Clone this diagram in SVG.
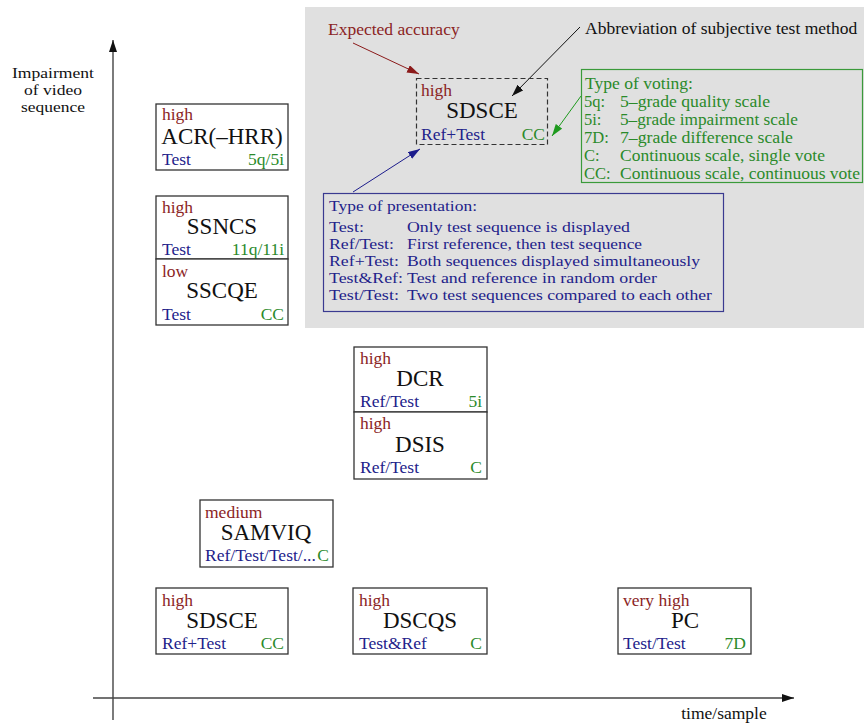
<svg xmlns="http://www.w3.org/2000/svg" width="864" height="724" viewBox="0 0 864 724">
<defs>
<marker id="ahK" viewBox="0 0 12 8" refX="12" refY="4" markerWidth="12" markerHeight="8" markerUnits="userSpaceOnUse" orient="auto"><path d="M0,0 L12,4 L0,8 z" fill="#111"/></marker>
<marker id="ahR" viewBox="0 0 12 8" refX="12" refY="4" markerWidth="12" markerHeight="8" markerUnits="userSpaceOnUse" orient="auto"><path d="M0,0 L12,4 L0,8 z" fill="#8b1a1a"/></marker>
<marker id="ahG" viewBox="0 0 12 8" refX="12" refY="4" markerWidth="12" markerHeight="8" markerUnits="userSpaceOnUse" orient="auto"><path d="M0,0 L12,4 L0,8 z" fill="#1e9a1e"/></marker>
<marker id="ahB" viewBox="0 0 12 8" refX="12" refY="4" markerWidth="12" markerHeight="8" markerUnits="userSpaceOnUse" orient="auto"><path d="M0,0 L12,4 L0,8 z" fill="#1c1c8c"/></marker>
</defs>
<style>
text{font-family:"Liberation Serif","Times New Roman",serif;font-size:17.5px;fill:#111}
.box{fill:#fff;stroke:#333;stroke-width:1.3}
.acc{fill:#8b2424}
.name{font-size:23px;text-anchor:middle;fill:#111}
.pres{fill:#22228a}
.vote{fill:#2a8a2a;text-anchor:end}
.gv{fill:#2a8a2a;font-size:16.5px}
.lp{fill:#22228a;font-size:15.5px}
.ax{font-size:15.5px;text-anchor:middle}
.axis{stroke:#444;stroke-width:1.4;fill:none}
</style>
<rect x="305" y="7" width="559" height="321" fill="#e0e0e0"/>
<g id="connectors">
<line class="axis" x1="113" y1="720" x2="113" y2="40" marker-end="url(#ahK)"/>
<line class="axis" x1="93" y1="698" x2="794" y2="698" marker-end="url(#ahK)"/>
<line x1="353" y1="43" x2="419" y2="74" stroke="#8b1a1a" stroke-width="1" marker-end="url(#ahR)"/>
<line x1="580" y1="27" x2="512" y2="96" stroke="#111" stroke-width="1" marker-end="url(#ahK)"/>
<line x1="581" y1="96" x2="552" y2="136" stroke="#1e9a1e" stroke-width="1" marker-end="url(#ahG)"/>
<line x1="353" y1="192" x2="420" y2="149" stroke="#1c1c8c" stroke-width="1" marker-end="url(#ahB)"/>
</g>
<g id="axis-labels">
<text x="53" y="78" class="ax" textLength="82" lengthAdjust="spacingAndGlyphs">Impairment</text>
<text x="53" y="95" class="ax" textLength="58" lengthAdjust="spacingAndGlyphs">of video</text>
<text x="53" y="112" class="ax" textLength="64" lengthAdjust="spacingAndGlyphs">sequence</text>
<text x="724" y="719" text-anchor="middle">time/sample</text>
</g>
<g id="legend-accuracy"><text x="328" y="35" class="acc">Expected accuracy</text></g>
<g id="legend-abbrev"><text x="585" y="34">Abbreviation of subjective test method</text></g>
<g id="legend-example">
<rect x="416.5" y="78.5" width="131" height="66" fill="none" stroke="#333" stroke-width="1.2" stroke-dasharray="5,3"/>
<text x="421" y="96" class="acc">high</text>
<text x="482" y="118" class="name">SDSCE</text>
<text x="421" y="140" class="pres">Ref+Test</text>
<text x="545" y="140" class="vote">CC</text>
</g>
<g id="legend-voting">
<rect x="581.5" y="69.5" width="281" height="113" fill="none" stroke="#3a9a3a" stroke-width="1.2"/>
<text x="585" y="89" class="gv" textLength="108" lengthAdjust="spacingAndGlyphs">Type of voting:</text>
<text x="584" y="107" class="gv">5q:</text><text x="620" y="107" class="gv" textLength="150" lengthAdjust="spacingAndGlyphs">5–grade quality scale</text>
<text x="584" y="125" class="gv">5i:</text><text x="620" y="125" class="gv" textLength="178" lengthAdjust="spacingAndGlyphs">5–grade impairment scale</text>
<text x="584" y="143" class="gv">7D:</text><text x="620" y="143" class="gv" textLength="173" lengthAdjust="spacingAndGlyphs">7–grade difference scale</text>
<text x="584" y="161" class="gv">C:</text><text x="620" y="161" class="gv" textLength="205" lengthAdjust="spacingAndGlyphs">Continuous scale, single vote</text>
<text x="584" y="179" class="gv">CC:</text><text x="620" y="179" class="gv" textLength="240" lengthAdjust="spacingAndGlyphs">Continuous scale, continuous vote</text>
</g>
<g id="legend-presentation">
<rect x="323.5" y="193.5" width="400" height="118" fill="none" stroke="#3a3a90" stroke-width="1.2"/>
<text x="329" y="211" class="lp" textLength="148" lengthAdjust="spacingAndGlyphs">Type of presentation:</text>
<text x="329" y="232" class="lp" textLength="35" lengthAdjust="spacingAndGlyphs">Test:</text><text x="407" y="232" class="lp" textLength="223" lengthAdjust="spacingAndGlyphs">Only test sequence is displayed</text>
<text x="329" y="249" class="lp" textLength="65" lengthAdjust="spacingAndGlyphs">Ref/Test:</text><text x="407" y="249" class="lp" textLength="235" lengthAdjust="spacingAndGlyphs">First reference, then test sequence</text>
<text x="329" y="266" class="lp" textLength="70" lengthAdjust="spacingAndGlyphs">Ref+Test:</text><text x="407" y="266" class="lp" textLength="293" lengthAdjust="spacingAndGlyphs">Both sequences displayed simultaneously</text>
<text x="329" y="283" class="lp" textLength="74" lengthAdjust="spacingAndGlyphs">Test&amp;Ref:</text><text x="407" y="283" class="lp" textLength="250" lengthAdjust="spacingAndGlyphs">Test and reference in random order</text>
<text x="329" y="300" class="lp" textLength="70" lengthAdjust="spacingAndGlyphs">Test/Test:</text><text x="407" y="300" class="lp" textLength="305" lengthAdjust="spacingAndGlyphs">Two test sequences compared to each other</text>
</g>
<g id="acr">
<rect class="box" x="156" y="104" width="132" height="66"/>
<text x="162" y="120" class="acc">high</text>
<text x="222" y="144" class="name">ACR(–HRR)</text>
<text x="162" y="165" class="pres">Test</text>
<text x="284" y="165" class="vote">5q/5i</text>
</g>
<g id="ssncs">
<rect class="box" x="156" y="196" width="132" height="63"/>
<text x="162" y="213" class="acc">high</text>
<text x="222" y="234" class="name">SSNCS</text>
<text x="162" y="255" class="pres">Test</text>
<text x="284" y="255" class="vote">11q/11i</text>
</g>
<g id="sscqe">
<rect class="box" x="156" y="259" width="132" height="66"/>
<text x="162" y="277" class="acc">low</text>
<text x="222" y="298" class="name">SSCQE</text>
<text x="162" y="320" class="pres">Test</text>
<text x="284" y="320" class="vote">CC</text>
</g>
<g id="dcr">
<rect class="box" x="354" y="347" width="133" height="65"/>
<text x="360" y="364" class="acc">high</text>
<text x="420" y="386" class="name">DCR</text>
<text x="360" y="407" class="pres">Ref/Test</text>
<text x="482" y="407" class="vote">5i</text>
</g>
<g id="dsis">
<rect class="box" x="354" y="412" width="133" height="67"/>
<text x="360" y="429" class="acc">high</text>
<text x="420" y="452" class="name">DSIS</text>
<text x="360" y="473" class="pres">Ref/Test</text>
<text x="482" y="473" class="vote">C</text>
</g>
<g id="samviq">
<rect class="box" x="200" y="500" width="133" height="67"/>
<text x="205" y="518" class="acc">medium</text>
<text x="266" y="540" class="name">SAMVIQ</text>
<text x="205" y="561" class="pres">Ref/Test/Test/...</text>
<text x="329" y="561" class="vote">C</text>
</g>
<g id="sdsce">
<rect class="box" x="156" y="588" width="132" height="66"/>
<text x="162" y="606" class="acc">high</text>
<text x="222" y="628" class="name">SDSCE</text>
<text x="162" y="649" class="pres">Ref+Test</text>
<text x="284" y="649" class="vote">CC</text>
</g>
<g id="dscqs">
<rect class="box" x="353" y="588" width="134" height="66"/>
<text x="359" y="606" class="acc">high</text>
<text x="420" y="628" class="name">DSCQS</text>
<text x="359" y="649" class="pres">Test&amp;Ref</text>
<text x="482" y="649" class="vote">C</text>
</g>
<g id="pc">
<rect class="box" x="618" y="588" width="133" height="66"/>
<text x="623" y="606" class="acc">very high</text>
<text x="685" y="628" class="name">PC</text>
<text x="623" y="649" class="pres">Test/Test</text>
<text x="746" y="649" class="vote">7D</text>
</g>
</svg>
